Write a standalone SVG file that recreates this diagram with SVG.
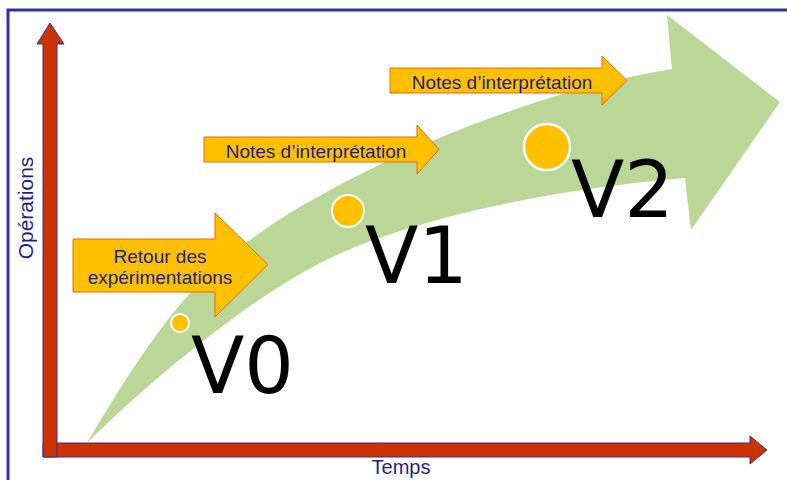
<svg xmlns="http://www.w3.org/2000/svg" width="787" height="480" viewBox="0 0 787 480">
<style>
.axis{fill:#CC3300;stroke:#333399;stroke-width:1}
.note{fill:#FFC000;stroke:#E46C0A;stroke-width:1}
.lbl{font-family:"Liberation Sans",Arial,sans-serif;fill:#1E1E8A}
.ver{font-family:"DejaVu Sans",Verdana,sans-serif;font-size:78px;fill:#000}
.dot{fill:#FFC000;stroke:#FFFFFF}
</style>
<rect x="0" y="0" width="787" height="480" fill="#FFFFFF"/>
<rect id="frame" x="8" y="10" width="800" height="500" fill="none" stroke="#333399" stroke-width="3"/>
<g id="growth">
<path d="M87,443 C115,397 175,290 247,242 C330,180 510,95 672,69 L667,15 L780,102 L691,230 L685,178 C540,190 400,222 320,263 C230,310 130,400 87,443 Z" fill="#BBD797"/>
</g>
<g id="axes">
<polygon class="axis" points="43,443 750,443 750,436 767,450 750,464 750,457 43,457"/>
<polygon class="axis" points="43,457 43,44 37,44 50,23 64,44 57,44 57,443 57,457"/>
<text class="lbl" x="401" y="474" font-size="20" text-anchor="middle">Temps</text>
<text class="lbl" font-size="21" text-anchor="middle" transform="translate(33,208) rotate(-90)">Opérations</text>
</g>
<g id="note-retour">
<polygon class="note" points="73,239 215,239 215,213 268,264.5 215,317 215,292 73,292"/>
<text class="lbl" x="160" y="263" font-size="19" text-anchor="middle">Retour des</text>
<text class="lbl" x="160" y="284" font-size="19" text-anchor="middle">expérimentations</text>
</g>
<g id="note-interp1">
<polygon class="note" points="204,137 417,137 417,125 439,149.5 417,174 417,162 204,162"/>
<text class="lbl" x="316" y="158" font-size="19" text-anchor="middle">Notes d’interprétation</text>
</g>
<g id="note-interp2">
<polygon class="note" points="390,68 602,68 602,56 627,80.5 602,105 602,93 390,93"/>
<text class="lbl" x="502" y="89" font-size="19" text-anchor="middle">Notes d’interprétation</text>
</g>
<g id="v0">
<circle class="dot" cx="180" cy="323" r="9" stroke-width="2"/>
<text class="ver" x="191" y="393">V0</text>
</g>
<g id="v1">
<circle class="dot" cx="348" cy="211" r="16" stroke-width="2"/>
<text class="ver" x="365" y="283">V1</text>
</g>
<g id="v2">
<circle class="dot" cx="547" cy="147" r="23" stroke-width="2.5"/>
<text class="ver" x="571" y="217">V2</text>
</g>
</svg>
